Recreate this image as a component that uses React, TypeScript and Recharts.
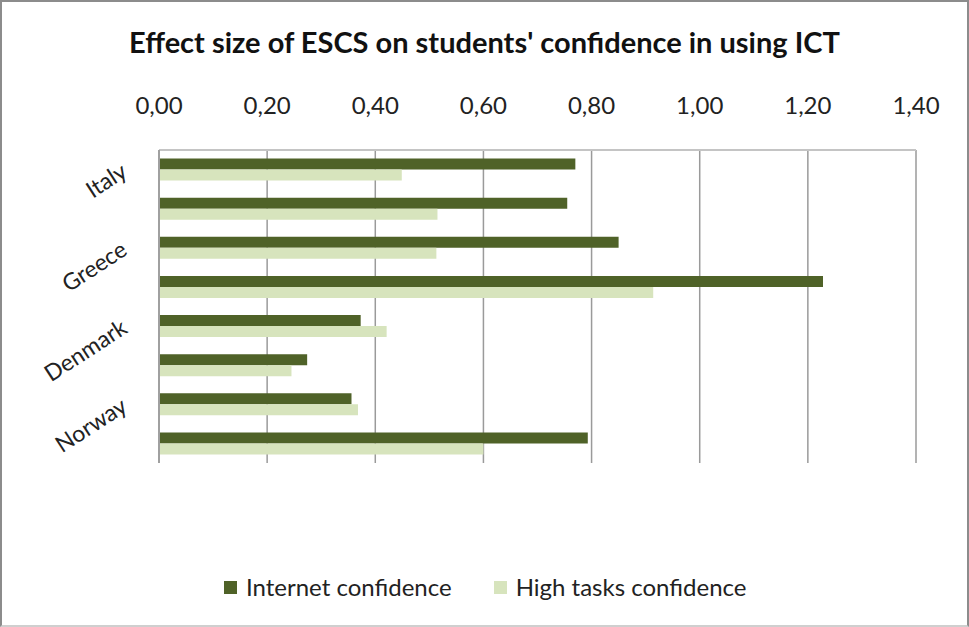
import React from 'react'
import { BarChart, Bar, XAxis, YAxis, CartesianGrid } from 'recharts'

// Rows from top to bottom; only every other row carries a country label
const countries = ['Italy', '', 'Greece', '', 'Denmark', '', 'Norway', '']
const internetConfidence = [0.77, 0.755, 0.85, 1.228, 0.373, 0.274, 0.356, 0.793]
const highTasksConfidence = [0.449, 0.515, 0.513, 0.914, 0.421, 0.245, 0.368, 0.6]
const xTicks = [0, 0.2, 0.4, 0.6, 0.8, 1.0, 1.2, 1.4]

const DARK = '#4f6228'
const LIGHT = '#d7e4bd'
const FONT = 'Lato, "Open Sans", sans-serif'

const data = countries.map((name, i) => ({
  name,
  internet: internetConfidence[i],
  highTasks: highTasksConfidence[i],
}))

const commaFmt = (v: number) => v.toFixed(2).replace('.', ',')

function CountryTick(props: any) {
  const { x, y, payload } = props
  if (!payload.value) return null
  return (
    <text
      x={x}
      y={y}
      dy={7}
      textAnchor="end"
      transform={`rotate(-33, ${x}, ${y})`}
      fontFamily={FONT}
      fontSize={23}
      fill="#222"
    >
      {payload.value}
    </text>
  )
}

function LegendItem({ color, label }: { color: string; label: string }) {
  return (
    <span style={{ display: 'inline-flex', alignItems: 'center', marginRight: 42 }}>
      <span style={{ width: 13, height: 13, background: color, marginRight: 9 }} />
      <span>{label}</span>
    </span>
  )
}

export default function App() {
  return (
    <div
      style={{
        position: 'absolute', left: 0, top: 0, width: 969, height: 627,
        boxSizing: 'border-box', border: '2px solid #8c8c8c', borderBottomColor: '#cfcfcf',
        background: '#fff', fontFamily: FONT,
      }}
    >
      <div
        style={{
          position: 'absolute', left: 0, right: 0, top: 22, textAlign: 'center',
          fontSize: 29, fontWeight: 700, color: '#111', lineHeight: '36px',
        }}
      >
        Effect size of ESCS on students' confidence in using ICT
      </div>
      <div style={{ position: 'absolute', left: -2, top: -2 }}>
        <BarChart
          width={969}
          height={627}
          data={data}
          layout="vertical"
          margin={{ top: 100, right: 53, left: 20, bottom: 164 }}
          barCategoryGap="22%"
          barGap={0}
        >
          <CartesianGrid horizontal={false} stroke="#9a9a9a" strokeWidth={1.5} />
          <XAxis
            type="number"
            orientation="top"
            domain={[0, 1.4]}
            ticks={xTicks}
            tickFormatter={commaFmt}
            height={50}
            axisLine={{ stroke: '#c4c4c4', strokeWidth: 2 }}
            tickLine={false}
            tickMargin={30}
            tick={{ fontSize: 24, fill: '#222', fontFamily: FONT }}
            interval={0}
          />
          <YAxis
            type="category"
            dataKey="name"
            width={139}
            axisLine={{ stroke: '#a0a0a0', strokeWidth: 2 }}
            tickLine={false}
            tickMargin={28}
            interval={0}
            tick={<CountryTick />}
          />
          <Bar dataKey="internet" name="Internet confidence" fill={DARK} isAnimationActive={false} />
          <Bar dataKey="highTasks" name="High tasks confidence" fill={LIGHT} isAnimationActive={false} />
        </BarChart>
      </div>
      <div
        style={{
          position: 'absolute', left: 222, top: 570, fontSize: 24, color: '#222',
          display: 'flex', alignItems: 'center', lineHeight: '30px',
        }}
      >
        <LegendItem color={DARK} label="Internet confidence" />
        <LegendItem color={LIGHT} label="High tasks confidence" />
      </div>
    </div>
  )
}
